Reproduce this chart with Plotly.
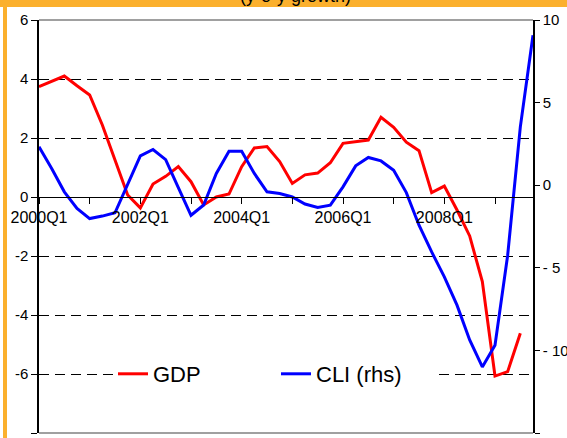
import plotly.graph_objects as go

quarters = [
    "2000Q1", "2000Q2", "2000Q3", "2000Q4", "2001Q1", "2001Q2", "2001Q3", "2001Q4",
    "2002Q1", "2002Q2", "2002Q3", "2002Q4", "2003Q1", "2003Q2", "2003Q3", "2003Q4",
    "2004Q1", "2004Q2", "2004Q3", "2004Q4", "2005Q1", "2005Q2", "2005Q3", "2005Q4",
    "2006Q1", "2006Q2", "2006Q3", "2006Q4", "2007Q1", "2007Q2", "2007Q3", "2007Q4",
    "2008Q1", "2008Q2", "2008Q3", "2008Q4", "2009Q1", "2009Q2", "2009Q3", "2009Q4",
]

gdp = [
    3.74, 3.91, 4.10, 3.77, 3.46, 2.44, 1.25, 0.07, -0.37, 0.44,
    0.70, 1.03, 0.52, -0.27, 0.00, 0.10, 1.03, 1.66, 1.71, 1.20,
    0.46, 0.75, 0.81, 1.16, 1.82, 1.88, 1.93, 2.70, 2.36, 1.86,
    1.57, 0.15, 0.37, -0.44, -1.32, -2.87, -6.07, -5.92, -4.62,
]

cli = [
    2.32, 1.01, -0.40, -1.41, -2.02, -1.87, -1.67, 0.05, 1.77, 2.16,
    1.55, -0.15, -1.82, -1.20, 0.71, 2.06, 2.06, 0.71, -0.40, -0.50,
    -0.71, -1.14, -1.35, -1.21, -0.10, 1.17, 1.68, 1.47, 0.91, -0.45,
    -2.42, -4.04, -5.55, -7.26, -9.37, -11.0, -9.69, -4.24, 3.53, 9.08,
]

x_tickvals = quarters[::4]
x_ticktext = ["2000Q1", "", "2002Q1", "", "2004Q1", "", "2006Q1", "", "2008Q1", ""]

left_ticks = [6, 4, 2, 0, -2, -4, -6, -8]
left_ticktext = ["6", "4", "2", "0", "-2", "-4", "-6", "-8"]
right_ticks = [10, 5, 0, -5, -10, -15]
right_ticktext = ["10", "5", "0", "- 5", "- 10", "- 15"]

title_text = "(y-o-y growth)"
FONT = "Arial, Liberation Sans, sans-serif"
ORANGE = "#FBB02D"

fig = go.Figure()
fig.add_trace(go.Scatter(x=quarters[:len(gdp)], y=gdp, name="GDP", mode="lines",
                         line=dict(color="#FF0000", width=3)))
fig.add_trace(go.Scatter(x=quarters[:len(cli)], y=cli, name="CLI (rhs)", mode="lines",
                         line=dict(color="#0000FF", width=3), yaxis="y2"))

W, H = 567, 438
L, R, T, B = 39, 34, 20, 5
pw, ph = W - L - R, H - T - B

def px_x(p):
    return (p - L) / pw

def px_y(p):
    return (H - B - p) / ph

shapes = [
    # orange frame pieces
    dict(type="rect", xref="paper", yref="paper", x0=px_x(-5), x1=px_x(W + 5),
         y0=px_y(7), y1=px_y(-5), fillcolor=ORANGE, line_width=0, layer="below"),
    dict(type="rect", xref="paper", yref="paper", x0=px_x(3), x1=px_x(7),
         y0=px_y(H + 5), y1=px_y(7), fillcolor=ORANGE, line_width=0, layer="below"),
    # top and bottom plot borders
    dict(type="line", xref="paper", yref="paper", x0=0, x1=1, y0=1, y1=1,
         line=dict(color="#808080", width=1.5), layer="above"),
    dict(type="line", xref="paper", yref="paper", x0=0, x1=1, y0=0, y1=0,
         line=dict(color="#808080", width=1.5), layer="above"),
]

fig.update_layout(
    width=W, height=H,
    margin=dict(l=L, r=R, t=T, b=B, autoexpand=False),
    paper_bgcolor="white", plot_bgcolor="white",
    font=dict(family=FONT, color="black", size=15),
    showlegend=True,
    legend=dict(orientation="h", x=px_x(113), xanchor="left", y=px_y(374), yanchor="middle",
                bgcolor="white", font=dict(size=22, family=FONT),
                entrywidth=118, entrywidthmode="pixels", itemwidth=30,
                tracegroupgap=0),
    xaxis=dict(type="category", range=[0, 39], categoryorder="array", categoryarray=quarters,
               tickmode="array", tickvals=x_tickvals, ticktext=x_ticktext,
               anchor="free", position=8 / 14,
               showline=True, linecolor="black", linewidth=1,
               ticks="outside", ticklen=6, tickcolor="black",
               showgrid=False, zeroline=False, tickfont=dict(size=16)),
    yaxis=dict(range=[-8, 6], tickmode="array", tickvals=left_ticks, ticktext=left_ticktext,
               showline=True, linecolor="black", linewidth=1.5,
               ticks="outside", ticklen=6, tickcolor="black",
               showgrid=True, gridcolor="black", gridwidth=1, griddash="10px,6px",
               zeroline=False, tickfont=dict(size=15)),
    yaxis2=dict(range=[-15, 10], overlaying="y", side="right", tickmode="array",
                tickvals=right_ticks, ticktext=right_ticktext,
                showline=True, linecolor="black", linewidth=1.5,
                ticks="outside", ticklen=5, tickcolor="black",
                showgrid=False, zeroline=False, tickfont=dict(size=15)),
    shapes=shapes,
    annotations=[dict(text=title_text, xref="paper", yref="paper", x=px_x(295), y=px_y(-4),
                      xanchor="center", yanchor="middle", showarrow=False,
                      font=dict(size=18, family=FONT, color="black"))],
)

fig.write_html("out.html", config={"displayModeBar": False},
               post_script="document.body.style.margin='0';document.body.style.overflow='hidden';")
